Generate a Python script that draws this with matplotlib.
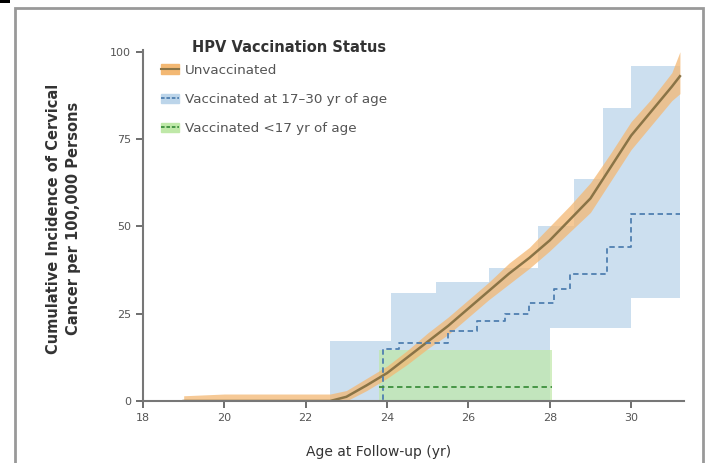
import matplotlib.pyplot as plt
from matplotlib.patches import Patch, Rectangle
from matplotlib.lines import Line2D

# unvaccinated cumulative incidence with 95% CI
unvac_age = [19.0, 20, 21, 22, 22.6, 23, 23.5, 24, 24.5, 25, 25.5, 26, 26.5, 27, 27.5, 28, 28.5, 29, 29.5, 30, 30.5, 31, 31.2]
unvac_val = [0, 0, 0, 0, 0, 1.2, 4.5, 8, 12.5, 17, 21.5, 26.5, 31.5, 36.5, 41, 46, 52, 58, 67, 76, 83, 90, 93]
unvac_up = [1.5, 2, 2, 2, 2, 3, 6.5, 10, 14.5, 19.5, 24, 29, 34, 39.5, 44, 50, 56, 62.5, 71, 80, 86.5, 94, 100]
unvac_lo = [0, 0, 0, 0, 0, 0, 3, 6.5, 10.5, 15, 19, 24, 29, 33.5, 38, 43, 48.5, 54, 63, 72, 79, 86, 88]

# vaccinated 17-30 yr (step)
late_age = [22.6, 23.9, 24.3, 25.5, 26.2, 26.9, 27.5, 28.1, 28.5, 29.4, 30.0, 31.2]
late_val = [0, 15, 16.5, 20, 23, 25, 28, 32, 36.5, 44, 53.5, 53.5]
late_ci_age = [22.6, 24.1, 25.2, 26.5, 27.7, 28.0, 28.6, 29.3, 30.0, 31.2]
late_up = [17.3, 31, 34, 38, 50, 50, 63.5, 84, 96, 96]
late_lo = [0, 0, 0, 0, 0, 21, 21, 21, 29.5, 29.5]

# vaccinated <17 yr (step)
early_age = [23.8, 28.05]
early_val = [4, 4]
early_up = [14.5, 14.5]
early_lo = [0, 0]

xticks = [18, 20, 22, 24, 26, 28, 30]
yticks = [0, 25, 50, 75, 100]

c_orange = '#f3b873'
c_unvac = '#8a7446'
c_blue_band = '#bcd5ea'
c_blue = '#4f7fb0'
c_green_band = '#bfe8a8'
c_green = '#3d8f3d'
grey = '#555555'

fig = plt.figure(figsize=(7.09, 4.63), dpi=100)
ax = fig.add_axes([143/709, 1-401/463, (684-143)/709, (401-50)/463])

ax.fill_between(late_ci_age, late_lo, late_up, step='post', color=c_blue_band, alpha=0.75, lw=0)
ax.fill_between(early_age, early_lo, early_up, step='post', color=c_green_band, alpha=0.7, lw=0)
ax.fill_between(unvac_age, unvac_lo, unvac_up, color=c_orange, alpha=0.75, lw=0)

ax.plot(unvac_age, unvac_val, color=c_unvac, lw=1.8)
ax.step(late_age, late_val, where='post', color=c_blue, lw=1.3, ls=(0, (3, 2)))
ax.plot(early_age, early_val, color=c_green, lw=1.3, ls=(0, (3, 2)))
ax.plot([22.6, 23.8], [0, 0], color=c_green, lw=1.3)

ax.set_xlim(18, 31.3)
ax.set_ylim(0, 100.5)
ax.set_xticks(xticks)
ax.set_yticks(yticks)
ax.tick_params(labelsize=8, colors=grey, length=5, width=1.2)
for s in ['top', 'right']:
    ax.spines[s].set_visible(False)
for s in ['left', 'bottom']:
    ax.spines[s].set_color('#777777')
    ax.spines[s].set_linewidth(1.5)

ax.set_ylabel('Cumulative Incidence of Cervical\nCancer per 100,000 Persons', fontsize=10.5,
              color='#333333', weight='semibold', linespacing=1.4)
ax.yaxis.set_label_coords(-0.115, 0.52)
fig.text(379/709, 1-452/463, 'Age at Follow-up (yr)', fontsize=10, color='#333333', ha='center', va='center')

handles = [
    (Patch(color=c_orange), Line2D([], [], color=c_unvac, lw=1.5)),
    (Patch(color=c_blue_band), Line2D([], [], color=c_blue, lw=1.3, ls=(0, (2, 1)))),
    (Patch(color=c_green_band), Line2D([], [], color=c_green, lw=1.3, ls=(0, (2, 1)))),
]
labels = ['Unvaccinated', 'Vaccinated at 17\u201330 yr of age', 'Vaccinated <17 yr of age']
leg = ax.legend(handles, labels, loc='upper left', bbox_to_anchor=(0.01, 0.995), frameon=False,
                fontsize=9.7, labelspacing=1.2, handlelength=1.4, handletextpad=0.4)
for t in leg.get_texts():
    t.set_color(grey)
fig.text(289/709, 1-47/463, 'HPV Vaccination Status', fontsize=10.5, weight='bold',
         color='#333333', ha='center', va='center')

# outer frame
fig.patches.append(Rectangle((15/709, -0.01), (703-15)/709, 1-8/463+0.01, transform=fig.transFigure,
                             fill=False, edgecolor='#999999', lw=2))
fig.patches.append(Rectangle((0, 1-3/463), 10/709, 3/463, transform=fig.transFigure,
                             color='black', lw=0))

fig.savefig('out.png', dpi=100)
